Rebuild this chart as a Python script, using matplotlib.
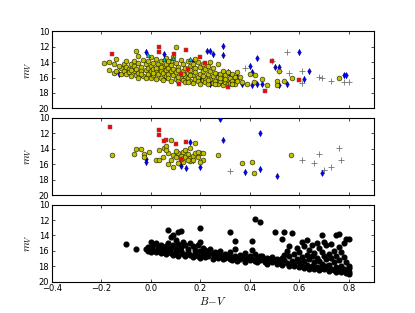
import numpy as np
import matplotlib
matplotlib.use("Agg")
import matplotlib.pyplot as plt

plt.rcParams["mathtext.fontset"] = "cm"

# ---- data (B-V, m_V) ----
top_yellow = [
    (-0.19, 14.1), (-0.17, 14.0), (-0.17, 15.0), (-0.15, 14.2), (-0.15, 15.4),
    (-0.14, 13.6), (-0.14, 15.2), (-0.12, 14.8), (-0.12, 15.5), (-0.11, 14.3),
    (-0.11, 15.1), (-0.10, 13.9), (-0.10, 14.6), (-0.10, 15.6), (-0.09, 14.9),
    (-0.09, 15.3), (-0.08, 14.2), (-0.08, 15.8), (-0.07, 13.8), (-0.07, 14.5),
    (-0.07, 15.2), (-0.06, 12.5), (-0.06, 14.9), (-0.06, 15.7), (-0.05, 13.2),
    (-0.05, 14.1), (-0.05, 15.4), (-0.05, 16.0), (-0.04, 14.6), (-0.04, 15.1),
    (-0.03, 13.7), (-0.03, 15.8), (-0.02, 14.3), (-0.02, 15.0), (-0.02, 16.1),
    (-0.01, 13.9), (-0.01, 14.8), (-0.01, 15.5), (0.00, 13.4), (0.00, 14.5),
    (0.00, 15.2), (0.00, 16.0), (0.01, 14.1), (0.01, 14.9), (0.01, 15.7),
    (0.02, 13.6), (0.02, 15.3), (0.02, 16.2), (0.03, 14.3), (0.03, 14.8),
    (0.03, 15.6), (0.04, 13.9), (0.04, 15.1), (0.04, 16.0), (0.05, 14.5),
    (0.05, 15.4), (0.05, 16.3), (0.06, 13.5), (0.06, 14.2), (0.06, 15.0),
    (0.06, 15.8), (0.07, 14.7), (0.07, 15.5), (0.07, 16.1), (0.08, 13.8),
    (0.08, 14.4), (0.08, 15.2), (0.08, 16.4), (0.09, 14.9), (0.09, 15.7),
    (0.10, 12.0), (0.10, 14.1), (0.10, 15.3), (0.10, 16.2), (0.11, 14.6),
    (0.11, 15.0), (0.11, 16.5), (0.12, 13.7), (0.12, 15.6), (0.12, 16.0),
    (0.13, 14.3), (0.13, 15.2), (0.13, 16.3), (0.14, 14.8), (0.14, 15.8),
    (0.14, 16.6), (0.15, 13.9), (0.15, 15.4), (0.15, 16.1), (0.16, 14.5),
    (0.16, 15.0), (0.16, 16.4), (0.17, 14.2), (0.17, 15.7), (0.17, 16.7),
    (0.18, 14.8), (0.18, 15.3), (0.18, 16.2), (0.19, 14.0), (0.19, 15.9),
    (0.19, 16.5), (0.20, 14.6), (0.20, 15.5), (0.20, 16.8), (0.21, 14.3),
    (0.21, 15.1), (0.21, 16.3), (0.22, 14.9), (0.22, 16.0), (0.22, 16.6),
    (0.23, 14.5), (0.23, 15.6), (0.23, 16.9), (0.24, 15.2), (0.24, 16.2),
    (0.25, 14.7), (0.25, 15.8), (0.25, 16.7), (0.26, 15.4), (0.26, 16.4),
    (0.27, 14.3), (0.27, 15.9), (0.27, 16.9), (0.28, 15.5), (0.28, 16.5),
    (0.29, 15.1), (0.29, 16.1), (0.29, 17.0), (0.30, 15.7), (0.30, 16.6),
    (0.31, 15.3), (0.31, 16.3), (0.31, 16.9), (0.32, 16.0), (0.32, 16.7),
    (0.33, 15.5), (0.33, 16.4), (0.34, 15.9), (0.34, 16.9), (0.35, 15.3),
    (0.35, 16.5), (0.36, 15.9), (0.37, 16.6), (0.39, 16.8), (0.40, 15.5),
    (0.42, 15.7), (0.415, 16.6), (0.45, 16.2), (0.47, 17.0), (0.51, 16.5),
    (0.51, 17.0), (0.52, 15.1), (0.54, 16.5), (0.57, 16.0), (0.76, 16.1),
    (-0.08, 15.0), (0.04, 14.6), (0.09, 13.3), (0.13, 15.6), (0.18, 13.6),
    (0.24, 14.0), (0.26, 16.9), (0.30, 16.2), (0.02, 14.7), (0.15, 16.6),
    (-0.13, 14.5), (-0.04, 15.6), (0.01, 15.4), (0.07, 13.9), (0.11, 15.9),
    (0.16, 15.7), (0.21, 15.8), (0.23, 16.3), (0.28, 16.0), (0.33, 16.9),
]
top_red = [
    (-0.157, 13.0), (0.033, 12.1), (0.033, 12.7), (0.094, 13.0), (0.143, 12.4),
    (0.123, 15.5), (0.112, 16.8), (0.152, 14.9), (0.20, 13.3), (0.22, 14.1),
    (0.31, 17.2), (0.46, 17.7), (0.49, 13.8), (0.60, 16.3),
]
top_blue = [
    (-0.13, 15.6), (-0.018, 12.7), (0.052, 12.9), (0.17, 13.8), (0.226, 12.5),
    (0.238, 12.5), (0.25, 13.0), (0.29, 11.9), (0.29, 13.1), (0.43, 13.5),
    (0.40, 14.5), (0.41, 15.3), (0.50, 14.6), (0.52, 14.6), (0.60, 12.7),
    (0.64, 15.2), (0.62, 16.2), (0.78, 15.7), (0.79, 15.7), (0.32, 15.6),
    (0.34, 16.4), (0.37, 16.9), (0.41, 17.0), (0.45, 16.8), (0.35, 15.9),
    (0.31, 15.3), (0.27, 15.7), (0.55, 16.9), (0.52, 17.0), (0.00, 15.4),
    (0.06, 15.9), (0.20, 16.1), (0.24, 16.9), (0.28, 16.6), (0.43, 16.9),
]
top_cyan = [(-0.01, 13.1), (0.052, 13.6), (0.088, 13.5), (0.16, 13.6)]
top_gray = [
    (0.55, 12.7), (0.38, 14.7), (0.52, 15.2), (0.61, 15.1), (0.61, 16.7),
    (0.68, 15.9), (0.69, 16.1), (0.73, 16.5), (0.78, 16.6), (0.80, 16.6),
    (0.49, 13.8), (0.56, 15.4),
]

mid_yellow = [
    (-0.155, 14.75), (-0.067, 14.7), (-0.058, 14.0), (-0.038, 14.0), (-0.027, 14.7),
    (-0.027, 15.0), (-0.008, 14.45), (0.022, 15.4), (0.034, 15.5), (0.033, 14.1),
    (0.054, 13.9), (0.063, 13.6), (0.08, 12.8), (0.18, 13.2), (0.16, 13.9),
    (0.20, 14.6), (0.21, 14.5), (0.21, 15.4), (0.20, 15.7), (0.27, 14.8),
    (0.367, 15.9), (0.407, 15.7), (0.418, 17.1), (0.567, 14.8), (0.07, 14.5),
    (0.09, 14.8), (0.10, 15.1), (0.11, 14.6), (0.12, 14.9), (0.13, 14.4),
    (0.14, 15.0), (0.15, 14.7), (0.16, 15.2), (0.17, 14.9), (0.18, 14.5),
    (0.19, 15.0), (0.08, 15.5), (0.13, 15.7), (0.16, 15.6), (0.06, 14.2),
    (0.10, 14.3), (0.14, 14.2), (0.17, 15.5), (0.19, 14.4), (0.12, 15.3),
    (0.07, 16.0), (0.09, 16.3), (0.15, 15.4), (0.05, 15.0), (0.11, 15.8),
]
mid_red = [
    (-0.166, 11.2), (0.033, 11.5), (0.033, 12.2), (0.062, 12.8), (0.053, 13.05),
    (0.103, 13.4), (0.143, 13.1), (0.123, 15.3),
]
mid_blue = [
    (-0.019, 15.35), (-0.019, 15.7), (0.28, 10.1), (0.29, 12.8), (0.44, 12.0),
    (0.44, 16.6), (0.38, 17.0), (0.51, 17.5), (0.69, 17.1), (0.20, 16.4),
    (0.143, 16.5), (0.12, 16.2), (0.116, 15.9), (0.16, 13.1), (0.17, 15.5),
]
mid_gray = [
    (0.32, 16.9), (0.61, 15.4), (0.66, 15.9), (0.68, 14.7), (0.70, 16.8),
    (0.73, 16.3), (0.76, 13.9), (0.77, 15.4),
]

bot_black = [
    (-0.10, 15.1), (-0.06, 15.7), (-0.02, 15.8), (-0.01, 15.5), (-0.01, 16.0),
    (0.00, 14.9), (0.00, 15.6), (0.00, 16.1), (0.01, 15.3), (0.01, 15.9),
    (0.02, 15.0), (0.02, 16.2), (0.03, 15.6), (0.03, 16.0), (0.04, 15.2),
    (0.04, 16.3), (0.05, 15.8), (0.05, 16.1), (0.06, 15.4), (0.06, 16.4),
    (0.07, 13.3), (0.07, 15.0), (0.07, 15.9), (0.08, 14.2), (0.08, 15.6),
    (0.08, 16.3), (0.09, 14.0), (0.09, 15.3), (0.09, 16.5), (0.10, 14.6),
    (0.10, 15.8), (0.10, 16.2), (0.11, 13.6), (0.11, 15.1), (0.11, 16.6),
    (0.12, 13.4), (0.12, 15.5), (0.12, 16.0), (0.13, 14.8), (0.13, 16.4),
    (0.14, 15.2), (0.14, 16.7), (0.15, 15.7), (0.15, 16.2), (0.16, 15.0),
    (0.16, 16.5), (0.17, 15.4), (0.17, 16.8), (0.18, 15.9), (0.18, 16.3),
    (0.19, 15.3), (0.19, 16.6), (0.20, 13.0), (0.20, 14.8), (0.20, 16.0),
    (0.20, 16.9), (0.21, 15.6), (0.21, 16.4), (0.22, 15.9), (0.22, 16.8),
    (0.23, 16.2), (0.23, 16.6), (0.24, 15.8), (0.25, 16.4), (0.25, 17.0),
    (0.26, 16.7), (0.26, 16.1), (0.27, 16.3), (0.27, 16.9), (0.28, 16.0),
    (0.28, 16.6), (0.29, 16.8), (0.29, 17.1), (0.30, 16.4), (0.30, 16.9),
    (0.31, 16.6), (0.32, 13.6), (0.32, 16.2), (0.32, 17.0), (0.33, 16.8),
    (0.33, 17.2), (0.34, 14.7), (0.34, 15.8), (0.34, 16.6), (0.35, 16.9),
    (0.35, 17.3), (0.36, 16.5), (0.36, 17.0), (0.37, 16.8), (0.38, 16.3),
    (0.38, 17.1), (0.38, 17.4), (0.39, 16.9), (0.40, 16.6), (0.40, 17.2),
    (0.41, 14.7), (0.41, 15.9), (0.41, 17.0), (0.42, 11.9), (0.42, 16.4),
    (0.42, 17.3), (0.43, 16.9), (0.43, 17.5), (0.44, 12.2), (0.44, 16.7),
    (0.44, 17.2), (0.45, 16.6), (0.45, 17.0), (0.46, 17.4), (0.47, 16.9),
    (0.47, 17.7), (0.48, 17.1), (0.49, 16.8), (0.49, 17.5), (0.50, 13.6),
    (0.50, 17.2), (0.51, 17.0), (0.51, 17.7), (0.52, 17.4), (0.53, 14.5),
    (0.53, 16.9), (0.53, 17.8), (0.54, 13.5), (0.54, 16.5), (0.54, 17.2),
    (0.55, 16.0), (0.55, 17.6), (0.56, 15.4), (0.56, 16.7), (0.56, 17.9),
    (0.57, 13.7), (0.57, 17.3), (0.58, 16.4), (0.58, 17.7), (0.58, 18.0),
    (0.59, 15.6), (0.59, 17.1), (0.60, 16.2), (0.60, 17.5), (0.60, 18.1),
    (0.61, 14.8), (0.61, 16.8), (0.61, 17.9), (0.62, 15.4), (0.62, 17.3),
    (0.62, 18.2), (0.63, 14.6), (0.63, 16.5), (0.63, 17.8), (0.64, 15.9),
    (0.64, 17.0), (0.64, 18.3), (0.65, 15.2), (0.65, 16.7), (0.65, 18.0),
    (0.66, 16.3), (0.66, 17.5), (0.66, 18.4), (0.67, 15.0), (0.67, 16.9),
    (0.67, 18.1), (0.68, 15.6), (0.68, 17.3), (0.68, 18.5), (0.69, 14.0),
    (0.69, 16.1), (0.69, 17.7), (0.69, 18.2), (0.70, 14.8), (0.70, 16.6),
    (0.70, 18.4), (0.71, 15.3), (0.71, 17.1), (0.71, 18.0), (0.72, 16.4),
    (0.72, 17.8), (0.72, 18.6), (0.73, 15.1), (0.73, 16.9), (0.73, 18.3),
    (0.74, 16.0), (0.74, 17.4), (0.74, 18.5), (0.75, 14.0), (0.75, 16.7),
    (0.75, 18.1), (0.75, 18.7), (0.76, 13.8), (0.76, 15.5), (0.76, 17.2),
    (0.76, 18.4), (0.77, 16.2), (0.77, 17.9), (0.77, 18.8), (0.78, 15.0),
    (0.78, 16.8), (0.78, 18.3), (0.79, 14.4), (0.79, 17.5), (0.79, 18.6),
    (0.79, 18.9), (0.80, 14.4), (0.80, 17.9), (0.80, 18.2), (0.80, 18.7),
    (0.80, 19.0),
]

blue_err = 0.35
xticks = [-0.4, -0.2, 0.0, 0.2, 0.4, 0.6, 0.8]
xticklabels = ["\u22120.4", "\u22120.2", "0.0", "0.2", "0.4", "0.6", "0.8"]
yticks = [10, 12, 14, 16, 18, 20]


def xy(pts):
    a = np.array(pts, dtype=float)
    return a[:, 0], a[:, 1]


def draw_panel(ax, yellow=None, red=None, blue=None, cyan=None, gray=None, black=None):
    if gray:
        x, y = xy(gray)
        ax.plot(x, y, "+", color="0.45", ms=4, mew=0.6, zorder=2)
    if blue:
        x, y = xy(blue)
        ax.errorbar(x, y, yerr=blue_err, fmt="d", color="b", mfc="b", mec="navy",
                    ms=3.0, mew=0.4, elinewidth=0.6, capsize=0, zorder=3)
    if yellow:
        x, y = xy(yellow)
        ax.plot(x, y, "o", mfc="y", mec="k", ms=3.5, mew=0.35, ls="none", zorder=4)
    if cyan:
        x, y = xy(cyan)
        ax.plot(x, y, "^", mfc="c", mec="k", ms=3.0, mew=0.35, ls="none", zorder=5)
    if red:
        x, y = xy(red)
        ax.plot(x, y, "s", mfc="r", mec="0.4", ms=3.2, mew=0.35, ls="none", zorder=6)
    if black:
        x, y = xy(black)
        ax.plot(x, y, "o", mfc="k", mec="k", ms=3.4, ls="none", zorder=4)

    ax.set_xlim(-0.4, 0.9)
    ax.set_ylim(20, 10)
    ax.set_xticks(xticks)
    ax.set_yticks(yticks)
    ax.tick_params(direction="in", top=True, right=True, labelsize=6,
                   length=2.5, width=0.5, pad=2)
    ax.set_ylabel("$m_V$", fontsize=8, labelpad=3)
    for s in ax.spines.values():
        s.set_linewidth(0.8)


fig, axes = plt.subplots(3, 1, figsize=(4.15, 3.13), dpi=100)
fig.subplots_adjust(left=0.125, right=0.9, bottom=0.1, top=0.9, hspace=0.125)

draw_panel(axes[0], yellow=top_yellow, red=top_red, blue=top_blue, cyan=top_cyan, gray=top_gray)
draw_panel(axes[1], yellow=mid_yellow, red=mid_red, blue=mid_blue, gray=mid_gray)
draw_panel(axes[2], black=bot_black)

axes[0].tick_params(labelbottom=False)
axes[1].tick_params(labelbottom=False)
axes[2].set_xticklabels(xticklabels)
axes[2].set_xlabel("$B\\!-\\!V$", fontsize=8, labelpad=1)

fig.savefig("out.png", dpi=100)
